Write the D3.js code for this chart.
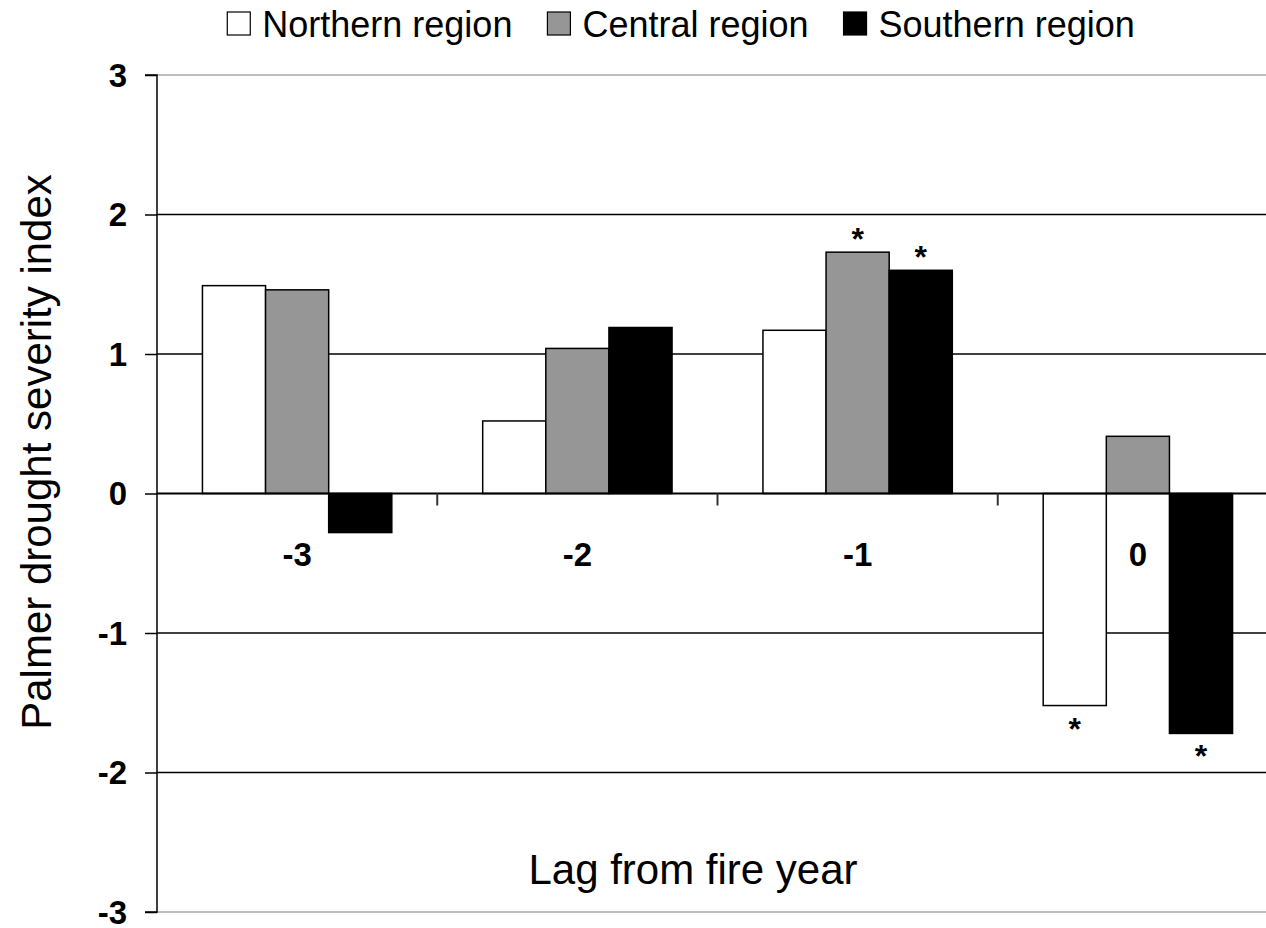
<!DOCTYPE html>
<html>
<head>
<meta charset="utf-8">
<script src="https://cdn.jsdelivr.net/npm/d3@7"></script>
<style>
  body { margin: 0; background: #fff; }
  svg { display: block; font-family: Arial, "Liberation Sans", sans-serif; }
</style>
</head>
<body>
<svg id="chart" width="1266" height="928"></svg>
<script>
// data
const lags = ['-3', '-2', '-1', '0'];
const regions = ['Northern region', 'Central region', 'Southern region'];
const northern = [1.49, 0.52, 1.17, -1.52];
const central = [1.46, 1.04, 1.73, 0.41];
const southern = [-0.28, 1.19, 1.60, -1.72];
const significant = [
  [false, false, false, true],
  [false, false, true, false],
  [false, false, true, true]
];
const yTicks = [-3, -2, -1, 0, 1, 2, 3];

const series = [northern, central, southern];
const colors = ['#ffffff', '#969696', '#000000'];

const svg = d3.select('#chart');
const plotLeft = 157, plotRight = 1278, plotTop = 75, plotBottom = 912;

const y = d3.scaleLinear().domain([-3, 3]).range([plotBottom, plotTop]);
const x0 = d3.scaleBand().domain(lags).range([plotLeft, plotRight]).padding(0);
const x1 = d3.scaleBand().domain(regions).range([0, x0.bandwidth()])
  .paddingInner(0).paddingOuter(0.72);

// gridlines
svg.append('g').selectAll('line')
  .data(yTicks.filter(d => d !== 0))
  .join('line')
  .attr('x1', plotLeft).attr('x2', plotRight)
  .attr('y1', d => y(d)).attr('y2', d => y(d))
  .attr('stroke', d => Math.abs(d) === 3 ? '#bdbdbd' : '#000')
  .attr('stroke-width', d => Math.abs(d) === 3 ? 2 : 1.3);

// bars
const rows = [];
lags.forEach((lag, i) => {
  regions.forEach((r, j) => {
    rows.push({ lag, region: r, j, value: series[j][i], star: significant[j][i] });
  });
});

svg.append('g').selectAll('rect')
  .data(rows)
  .join('rect')
  .attr('x', d => x0(d.lag) + x1(d.region))
  .attr('width', x1.bandwidth())
  .attr('y', d => y(Math.max(0, d.value)))
  .attr('height', d => Math.abs(y(d.value) - y(0)))
  .attr('fill', d => colors[d.j])
  .attr('stroke', '#000')
  .attr('stroke-width', 1.5);

// significance asterisks
svg.append('g').selectAll('text')
  .data(rows.filter(d => d.star))
  .join('text')
  .attr('x', d => x0(d.lag) + x1(d.region) + x1.bandwidth() / 2)
  .attr('y', d => d.value > 0 ? y(d.value) - 2 : y(d.value) + 34)
  .attr('text-anchor', 'middle')
  .style('font-size', '32px')
  .style('font-weight', 'bold')
  .text('*');

// zero line with category ticks
svg.append('line')
  .attr('x1', plotLeft).attr('x2', plotRight)
  .attr('y1', y(0)).attr('y2', y(0))
  .attr('stroke', '#000').attr('stroke-width', 2);

svg.append('g').selectAll('line')
  .data(lags.slice(1))
  .join('line')
  .attr('x1', d => x0(d)).attr('x2', d => x0(d))
  .attr('y1', y(0)).attr('y2', y(0) + 12)
  .attr('stroke', '#333').attr('stroke-width', 2);

svg.append('g').selectAll('text')
  .data(lags)
  .join('text')
  .attr('x', d => x0(d) + x0.bandwidth() / 2)
  .attr('y', y(0) + 72)
  .attr('text-anchor', 'middle')
  .style('font-size', '33px')
  .style('font-weight', 'bold')
  .text(d => d);

// y axis
const yAxis = svg.append('g')
  .attr('transform', `translate(${plotLeft},0)`)
  .call(d3.axisLeft(y).tickValues(yTicks).tickSize(12).tickPadding(18).tickFormat(d3.format('d')));
yAxis.select('.domain').attr('stroke', '#000').attr('stroke-width', 1.5).attr('d', `M-12,${plotTop}H0V${plotBottom}H-12`);
yAxis.selectAll('.tick line').attr('stroke', '#000').attr('stroke-width', 1.5);
yAxis.selectAll('.tick text')
  .attr('fill', '#000')
  .style('font-size', '33px')
  .style('font-weight', 'bold')
  .style('font-family', 'Arial, "Liberation Sans", sans-serif')
  .attr('dy', '0.34em')
  .text(d => d < 0 ? '-' + Math.abs(d) : d);

// axis titles
svg.append('text')
  .attr('x', 693).attr('y', 884)
  .attr('text-anchor', 'middle')
  .style('font-size', '42px')
  .text('Lag from fire year');

svg.append('text')
  .attr('transform', 'translate(51,452) rotate(-90)')
  .attr('text-anchor', 'middle')
  .style('font-size', '42px')
  .text('Palmer drought severity index');

// legend
const legend = svg.append('g');
let lx = 0;
regions.forEach((r, j) => {
  const g = legend.append('g').attr('transform', `translate(${lx},0)`);
  g.append('rect')
    .attr('x', 0).attr('y', 12).attr('width', 23).attr('height', 23)
    .attr('fill', colors[j]).attr('stroke', '#000').attr('stroke-width', 1.2);
  const t = g.append('text')
    .attr('x', 35).attr('y', 37)
    .style('font-size', '36px')
    .text(r);
  lx += 35 + t.node().getComputedTextLength() + 35;
});
const legendWidth = lx - 35;
legend.attr('transform', `translate(${681 - legendWidth / 2},0)`);
</script>
</body>
</html>
